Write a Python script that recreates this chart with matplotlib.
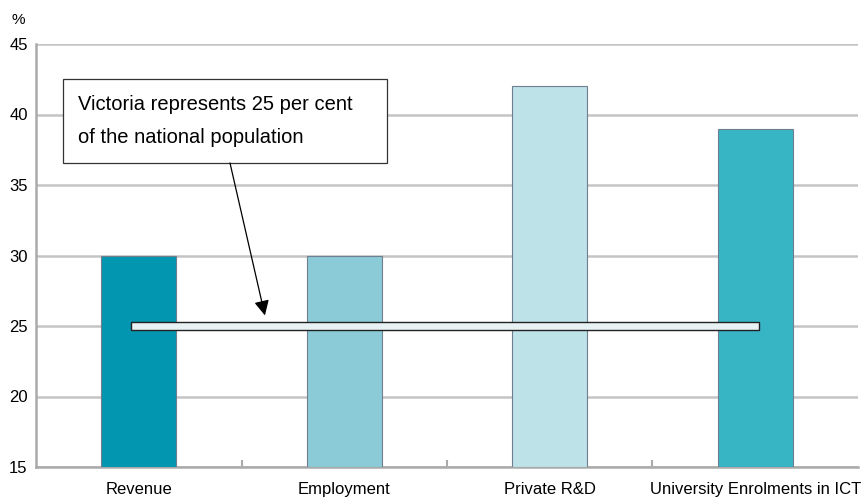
import matplotlib.pyplot as plt
from matplotlib.patches import Rectangle

# Data
categories = ['Revenue', 'Employment', 'Private R&D', 'University Enrolments in ICT']
values = [30, 30, 42, 39]
colors = ['#0396b0', '#8acbd7', '#bde2e8', '#37b5c5']
population_share = 25
yticks = [15, 20, 25, 30, 35, 40, 45]

plt.rcParams['font.family'] = ['Liberation Sans', 'DejaVu Sans']

fig = plt.figure(figsize=(8.64, 4.97), dpi=100)
ax = fig.add_axes([36 / 864, 1 - 467 / 497, 822 / 864, 423 / 497])

x = range(len(categories))
ax.bar(x, [v - 15 for v in values], bottom=15, width=0.365, color=colors,
       edgecolor='#6f7f8f', linewidth=0.8, zorder=3)

# reference bar for the national population share
ax.add_patch(Rectangle((-0.04, population_share - 0.25), 3.06, 0.5,
                       facecolor='#e8f2f5', edgecolor='#222222', linewidth=1.0,
                       zorder=4))

ax.set_xlim(-0.5, 3.5)
ax.set_ylim(15, 45)
ax.set_yticks(yticks)
ax.yaxis.grid(True, color='#c4c4c4', linewidth=1.8, zorder=0)
ax.set_axisbelow(True)

ax.set_xticks([0.5, 1.5, 2.5], minor=False)
ax.set_xticklabels([])
ax.tick_params(axis='x', direction='in', length=5, width=1.5, color='#aaaaaa')
ax.set_xticks(list(x), minor=True)
ax.set_xticklabels(categories, minor=True, fontsize=12)
ax.tick_params(axis='x', which='minor', length=0, pad=11)
ax.tick_params(axis='y', length=0, labelsize=12, pad=6)

for s in ['top', 'right']:
    ax.spines[s].set_visible(False)
ax.spines['left'].set_color('#aaaaaa')
ax.spines['left'].set_linewidth(1.8)
ax.spines['bottom'].set_color('#aaaaaa')
ax.spines['bottom'].set_linewidth(1.8)

fig.text(12 / 864, 1 - 20 / 497, '%', fontsize=11, va='center')

# annotation box, text and arrow
ax.add_patch(Rectangle((-0.369, 36.56), 1.577, 5.96, facecolor='white',
                       edgecolor='#333333', linewidth=0.9, zorder=5,
                       clip_on=False))
ax.text(-0.296, 40.74, 'Victoria represents 25 per cent', fontsize=14.5,
        ha='left', va='center', zorder=6)
ax.text(-0.296, 38.40, 'of the national population', fontsize=14.5,
        ha='left', va='center', zorder=6)
ax.annotate('', xy=(0.614, 25.75), xytext=(0.444, 36.56),
            arrowprops=dict(arrowstyle='-|>,head_length=0.5,head_width=0.25',
                            color='black', lw=0.9,
                            mutation_scale=18, shrinkA=0, shrinkB=0),
            zorder=5)

fig.savefig('out.png', dpi=100)
